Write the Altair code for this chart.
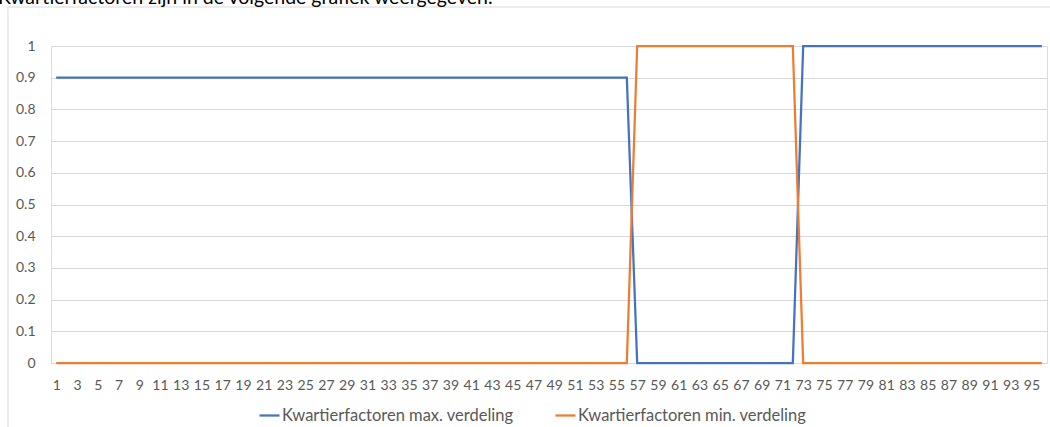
import altair as alt
import pandas as pd

# Quarter-hour index of the day (1..96)
quarters = list(range(1, 97))

# Quarter factors per distribution
max_verdeling = [0.9] * 56 + [0.0] * 16 + [1.0] * 24
min_verdeling = [0.0] * 56 + [1.0] * 16 + [0.0] * 24

series_names = ["Kwartierfactoren max. verdeling", "Kwartierfactoren min. verdeling"]
series_colors = ["#4472C4", "#ED7D31"]

x_tick_values = list(range(1, 97, 2))
y_tick_values = [0, 0.1, 0.2, 0.3, 0.4, 0.5, 0.6, 0.7, 0.8, 0.9, 1.0]

intro_text = "Kwartierfactoren zijn in de volgende grafiek weergegeven."

df = pd.DataFrame(
    {
        "kwartier": quarters * 2,
        "factor": max_verdeling + min_verdeling,
        "reeks": [series_names[0]] * len(quarters) + [series_names[1]] * len(quarters),
    }
)

FONT = "Lato"
W, H = 996, 317

lines = (
    alt.Chart(df)
    .mark_line(strokeWidth=2.25, clip=False)
    .encode(
        x=alt.X(
            "kwartier:Q",
            scale=alt.Scale(domain=[0.5, 96.5], nice=False, zero=False),
            axis=alt.Axis(
                values=x_tick_values,
                title=None,
                grid=False,
                ticks=False,
                domain=False,
                labelFont=FONT,
                labelFontSize=14,
                labelColor="#595959",
                labelPadding=15,
                labelFlush=False,
                labelOverlap=False,
            ),
        ),
        y=alt.Y(
            "factor:Q",
            scale=alt.Scale(domain=[0, 1], nice=False),
            axis=alt.Axis(
                values=y_tick_values,
                format="~g",
                title=None,
                grid=True,
                gridColor="#d9d9d9",
                gridWidth=1,
                ticks=False,
                domain=False,
                labelFont=FONT,
                labelFontSize=14,
                labelColor="#595959",
                labelPadding=16,
            ),
        ),
        color=alt.Color(
            "reeks:N",
            scale=alt.Scale(domain=series_names, range=series_colors),
            legend=alt.Legend(
                title=None,
                orient="none",
                direction="horizontal",
                legendX=207,
                legendY=358,
                symbolType="stroke",
                symbolSize=400,
                symbolStrokeWidth=2.25,
                labelFont=FONT,
                labelFontSize=16.5,
                labelColor="#595959",
                labelOffset=1,
                columnPadding=37,
                labelLimit=400,
            ),
        ),
        detail="reeks:N",
    )
)

frame = alt.Chart(pd.DataFrame({"k": [0]})).mark_rect(
    fill=None, stroke="#d9d9d9", strokeWidth=1, clip=False
).encode(
    x=alt.value(-43), x2=alt.value(1060), y=alt.value(-39), y2=alt.value(500)
)

intro = alt.Chart(pd.DataFrame({"t": [intro_text]})).mark_text(
    align="left", baseline="alphabetic", font=FONT, fontSize=19.5, color="#000000", clip=False
).encode(x=alt.value(-53), y=alt.value(-42), text="t:N")

chart = (
    alt.layer(frame, lines, intro)
    .properties(
        width=W,
        height=H,
        padding={"left": 51, "top": 46, "right": 3, "bottom": 64},
        autosize=alt.AutoSizeParams(type="none"),
    )
    .configure_view(stroke=None)
    .configure(background="#ffffff")
)

chart.save("out.html", embed_options={"renderer": "svg", "actions": False})
